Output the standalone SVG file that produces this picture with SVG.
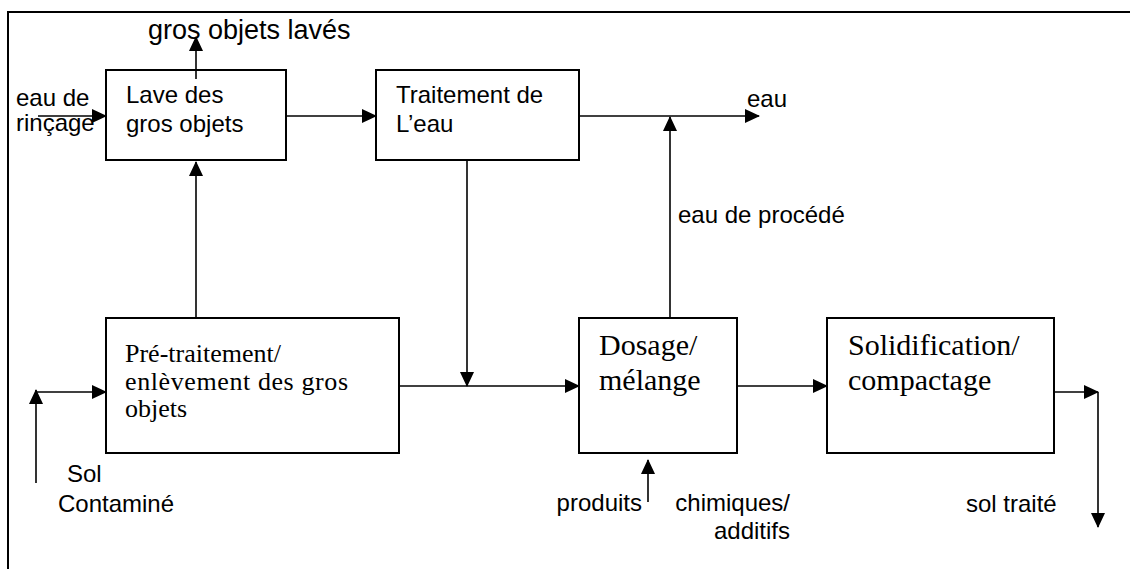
<svg xmlns="http://www.w3.org/2000/svg" width="1130" height="569" viewBox="0 0 1130 569">
  <style>
    .frame { fill: none; stroke: #000; stroke-width: 2; }
    .box { fill: #fff; stroke: #000; stroke-width: 2; }
    .conn path { fill: none; stroke: #000; stroke-width: 1.6; }
    .sans { font-family: "Liberation Sans", Arial, sans-serif; font-size: 24px; fill: #000; }
    .serif { font-family: "Liberation Serif", "Times New Roman", serif; fill: #000; }
  </style>
  <defs>
    <marker id="arrow" markerUnits="userSpaceOnUse" markerWidth="15" markerHeight="14" refX="14" refY="7" orient="auto">
      <path d="M0,0 L15,7 L0,14 z" fill="#000"/>
    </marker>
  </defs>

  <rect width="1130" height="569" fill="#fff"/>
  <!-- page frame, running off the right and bottom edges -->
  <path class="frame" d="M8,580 V12 H1140"/>

  <!-- connectors -->
  <g id="connectors" class="conn">
    <path d="M196,318 V162" marker-end="url(#arrow)"/>
    <path d="M196,79 V37" marker-end="url(#arrow)"/>
    <path d="M286,116 H376" marker-end="url(#arrow)"/>
    <path d="M38,116 H106" marker-end="url(#arrow)"/>
    <path d="M579,116 H759" marker-end="url(#arrow)"/>
    <path d="M670,318 V117" marker-end="url(#arrow)"/>
    <path d="M467,160 V386" marker-end="url(#arrow)"/>
    <path d="M399,386 H579" marker-end="url(#arrow)"/>
    <path d="M36,483 V390" marker-end="url(#arrow)"/>
    <path d="M36,392 H106" marker-end="url(#arrow)"/>
    <path d="M737,386 H827" marker-end="url(#arrow)"/>
    <path d="M1054,392 H1098" marker-end="url(#arrow)"/>
    <path d="M1098,392 V527" marker-end="url(#arrow)"/>
    <path d="M648,502 V460" marker-end="url(#arrow)"/>
  </g>

  <!-- process boxes -->
  <g id="lave">
    <rect class="box" x="106" y="70" width="180" height="90"/>
    <text class="sans" x="126" y="103">Lave des</text>
    <text class="sans" x="126" y="132">gros objets</text>
  </g>
  <!-- inner part of the outgoing stream drawn over the box -->
  <path d="M196,79 V70" stroke="#000" stroke-width="1.6"/>

  <g id="traitement-eau">
    <rect class="box" x="376" y="70" width="203" height="90"/>
    <text class="sans" x="396" y="103">Traitement de</text>
    <text class="sans" x="396" y="132">L’eau</text>
  </g>

  <g id="pretraitement">
    <rect class="box" x="106" y="318" width="293" height="135"/>
    <text class="serif" font-size="26" x="125" y="362">Pré-traitement/</text>
    <text class="serif" font-size="26" x="125" y="389.5" textLength="223" lengthAdjust="spacing">enlèvement des gros</text>
    <text class="serif" font-size="26" x="125" y="417">objets</text>
  </g>

  <g id="dosage">
    <rect class="box" x="579" y="318" width="158" height="135"/>
    <text class="serif" font-size="30" x="599" y="355">Dosage/</text>
    <text class="serif" font-size="30" x="599" y="390">mélange</text>
  </g>

  <g id="solidification">
    <rect class="box" x="827" y="318" width="227" height="135"/>
    <text class="serif" font-size="30" x="848" y="355">Solidification/</text>
    <text class="serif" font-size="30" x="848" y="390">compactage</text>
  </g>

  <!-- stream labels -->
  <g id="labels">
    <text class="sans" font-size="27" x="148" y="39" style="font-size:27px">gros objets lavés</text>
    <text class="sans" x="16" y="106">eau de</text>
    <text class="sans" x="16" y="131">rinçage</text>
    <text class="sans" x="747" y="107">eau</text>
    <text class="sans" x="678" y="223">eau de procédé</text>
    <text class="sans" x="67" y="482">Sol</text>
    <text class="sans" x="58" y="512">Contaminé</text>
    <text class="sans" x="642" y="511" text-anchor="end">produits</text>
    <text class="sans" x="790" y="511" text-anchor="end">chimiques/</text>
    <text class="sans" x="790" y="539" text-anchor="end">additifs</text>
    <text class="sans" x="966" y="512">sol traité</text>
  </g>
</svg>
